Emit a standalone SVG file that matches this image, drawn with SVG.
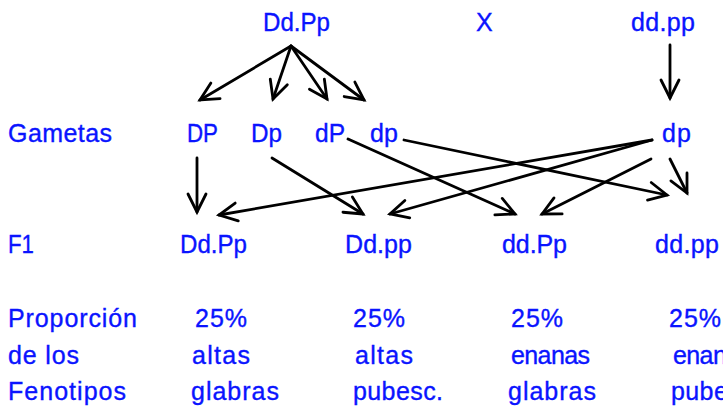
<svg xmlns="http://www.w3.org/2000/svg" width="723" height="411" viewBox="0 0 723 411">
<style>
text{font-family:"Liberation Sans",Arial,sans-serif;font-size:25px;fill:#0a14ff;stroke:#0a14ff;stroke-width:0.35}
.c line{stroke:#000;stroke-width:2.8;stroke-linecap:round;marker-end:url(#ah)}
</style>
<defs>
<marker id="ah" markerUnits="userSpaceOnUse" viewBox="0 0 22 20" refX="20" refY="10" markerWidth="22" markerHeight="20" orient="auto" overflow="visible">
<path d="M2,1 L20,10 L2,19" fill="none" stroke="#000" stroke-width="2.8" stroke-linecap="round" stroke-linejoin="miter"/>
</marker>
</defs>
<rect width="723" height="411" fill="#fff"/>
<g id="parent1"><text x="263" y="31" textLength="67" lengthAdjust="spacingAndGlyphs">Dd.Pp</text></g>
<g id="cross"><text x="476" y="31">X</text></g>
<g id="parent2"><text x="631" y="31" textLength="64">dd.pp</text></g>
<g id="lbl-gametas"><text x="8" y="142" textLength="104">Gametas</text></g>
<g id="g-DP"><text x="187" y="142" textLength="31" lengthAdjust="spacingAndGlyphs">DP</text></g>
<g id="g-Dp"><text x="251" y="142" textLength="31" lengthAdjust="spacingAndGlyphs">Dp</text></g>
<g id="g-dP"><text x="315" y="142" textLength="30" lengthAdjust="spacingAndGlyphs">dP</text></g>
<g id="g-dp"><text x="370" y="142" textLength="28">dp</text></g>
<g id="g-dp2"><text x="662" y="142" textLength="29">dp</text></g>
<g id="lbl-f1"><text x="8" y="253" textLength="26" lengthAdjust="spacingAndGlyphs">F1</text></g>
<g id="f1-DdPp"><text x="180" y="253" textLength="67" lengthAdjust="spacingAndGlyphs">Dd.Pp</text></g>
<g id="f1-Ddpp"><text x="345" y="253" textLength="67">Dd.pp</text></g>
<g id="f1-ddPp"><text x="502" y="253" textLength="65">dd.Pp</text></g>
<g id="f1-ddpp"><text x="655" y="253" textLength="64">dd.pp</text></g>
<g id="lbl-prop">
<text x="8" y="327" textLength="129">Proporción</text>
<text x="8" y="364" textLength="71">de los</text>
<text x="8" y="400" textLength="118">Fenotipos</text>
</g>
<g id="ph1">
<text x="195" y="327" textLength="52">25%</text>
<text x="192" y="364" textLength="58">altas</text>
<text x="191" y="400" textLength="88">glabras</text>
</g>
<g id="ph2">
<text x="353" y="327" textLength="52">25%</text>
<text x="355" y="364" textLength="58">altas</text>
<text x="353" y="400" textLength="90">pubesc.</text>
</g>
<g id="ph3">
<text x="511" y="327" textLength="52">25%</text>
<text x="511" y="364" textLength="79">enanas</text>
<text x="508" y="400" textLength="88">glabras</text>
</g>
<g id="ph4">
<text x="669" y="327" textLength="52">25%</text>
<text x="673" y="364" textLength="79">enanas</text>
<text x="671" y="400" textLength="90">pubesc.</text>
</g>
<g id="connectors" class="c">
<line x1="291" y1="46" x2="200" y2="100"/>
<line x1="291" y1="46" x2="273" y2="99"/>
<line x1="291" y1="46" x2="327" y2="99"/>
<line x1="291" y1="46" x2="364" y2="100"/>
<line x1="670" y1="45" x2="670" y2="98"/>
<line x1="197" y1="158" x2="197" y2="212"/>
<line x1="272" y1="158" x2="363" y2="214"/>
<line x1="348" y1="139" x2="515" y2="214"/>
<line x1="404" y1="140" x2="667" y2="195"/>
<line x1="652" y1="140" x2="219" y2="215"/>
<line x1="652" y1="140" x2="390" y2="214"/>
<line x1="651" y1="159" x2="542" y2="214"/>
<line x1="670" y1="159" x2="687" y2="193"/>
</g>
</svg>
